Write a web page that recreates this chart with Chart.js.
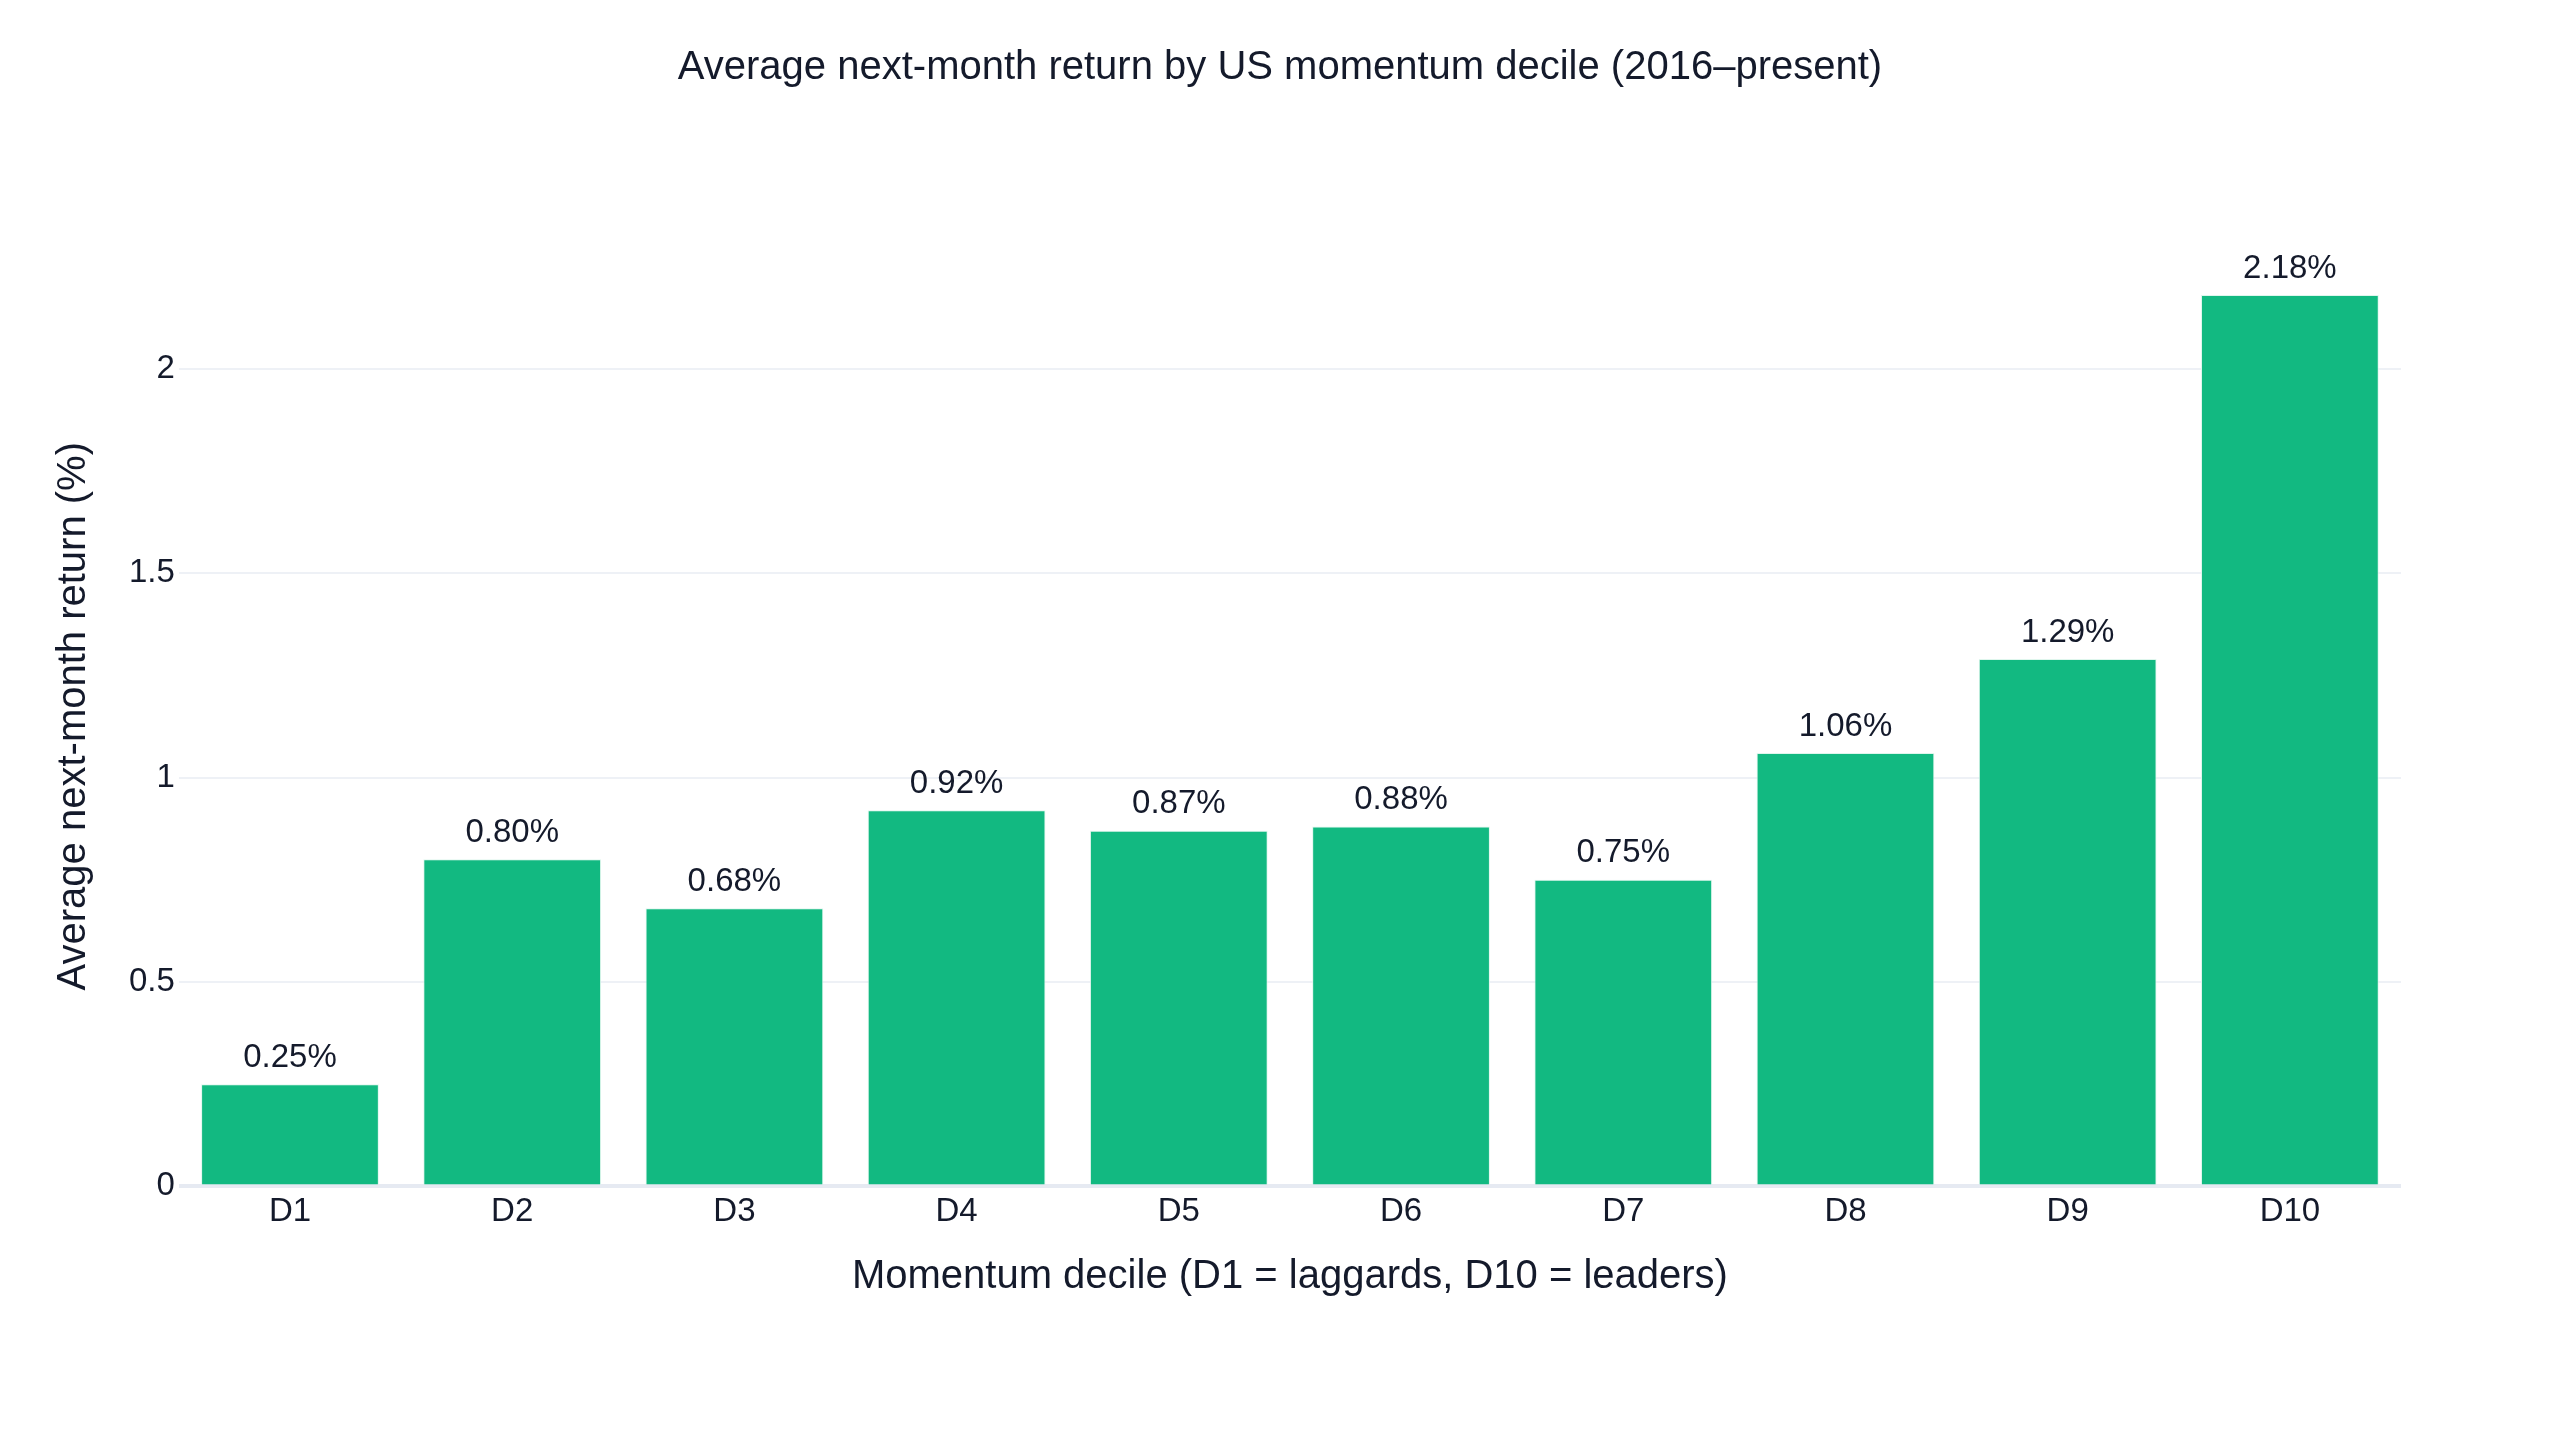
<!DOCTYPE html>
<html>
<head>
<meta charset="utf-8">
<script src="https://cdn.jsdelivr.net/npm/chart.js@4.4.1/dist/chart.umd.min.js"></script>
<style>
  html, body { margin: 0; padding: 0; background: #ffffff; }
  #chart { display: block; }
</style>
</head>
<body>
<canvas id="chart" width="2560" height="1440"></canvas>
<script>
// decile labels and average next-month return (%)
const deciles = ["D1", "D2", "D3", "D4", "D5", "D6", "D7", "D8", "D9", "D10"]
const avgReturn = [0.25, 0.80, 0.68, 0.92, 0.87, 0.88, 0.75, 1.06, 1.29, 2.18]
const yTicks = [0, 0.5, 1, 1.5, 2]

const TEXT = "#141a2b"
const FONT = "'Liberation Sans', Arial, Helvetica, sans-serif"

// labels above bars, positioned from the bar elements
const barLabels = {
  id: "barLabels",
  afterDatasetsDraw(chart) {
    const { ctx } = chart
    const meta = chart.getDatasetMeta(0)
    ctx.save()
    ctx.font = `33px ${FONT}`
    ctx.fillStyle = TEXT
    ctx.textAlign = "center"
    ctx.textBaseline = "bottom"
    meta.data.forEach((bar, i) => {
      ctx.fillText(avgReturn[i].toFixed(2) + "%", bar.x, bar.y - 10)
    })
    ctx.restore()
  },
}

// center the title on the whole canvas, not just the padded box
const centerTitle = {
  id: "centerTitle",
  afterLayout(chart) {
    if (!chart.titleBlock) return
    chart.titleBlock.left = 0
    chart.titleBlock.right = chart.width
  },
}

new Chart(document.getElementById("chart"), {
  type: "bar",
  data: {
    labels: deciles,
    datasets: [
      {
        data: avgReturn,
        backgroundColor: "#12b981",
        borderColor: "rgba(220, 245, 235, 0.9)",
        borderWidth: 1,
        barPercentage: 0.8,
        categoryPercentage: 1,
      },
    ],
  },
  options: {
    responsive: false,
    devicePixelRatio: 1,
    animation: false,
    layout: { padding: { left: 50, right: 159, top: 0, bottom: 139 } },
    plugins: {
      legend: { display: false },
      tooltip: { enabled: false },
      title: {
        display: true,
        text: "Average next-month return by US momentum decile (2016–present)",
        color: TEXT,
        font: { family: FONT, size: 40, weight: "normal" },
        padding: { top: 44, bottom: 154 },
      },
    },
    scales: {
      x: {
        grid: { display: false, drawTicks: false },
        border: { display: false },
        ticks: { color: TEXT, font: { family: FONT, size: 33 }, padding: 6 },
        title: {
          display: true,
          text: "Momentum decile (D1 = laggards, D10 = leaders)",
          color: TEXT,
          font: { family: FONT, size: 40 },
          padding: { top: 15, bottom: 0 },
        },
      },
      y: {
        min: 0,
        max: 2.3,
        afterBuildTicks: (scale) => {
          scale.ticks = yTicks.map((v) => ({ value: v }))
        },
        grid: {
          color: (c) => (c.tick && c.tick.value === 0 ? "#e6eaf2" : "#eef1f6"),
          lineWidth: (c) => (c.tick && c.tick.value === 0 ? 4 : 2),
          drawTicks: false,
        },
        border: { display: false },
        ticks: {
          color: TEXT,
          font: { family: FONT, size: 33 },
          padding: 4,
          callback: (value) => String(value),
        },
        title: {
          display: true,
          text: "Average next-month return (%)",
          color: TEXT,
          font: { family: FONT, size: 40 },
          padding: { top: 0, bottom: 27 },
        },
      },
    },
  },
  plugins: [barLabels, centerTitle],
})
</script>
</body>
</html>
